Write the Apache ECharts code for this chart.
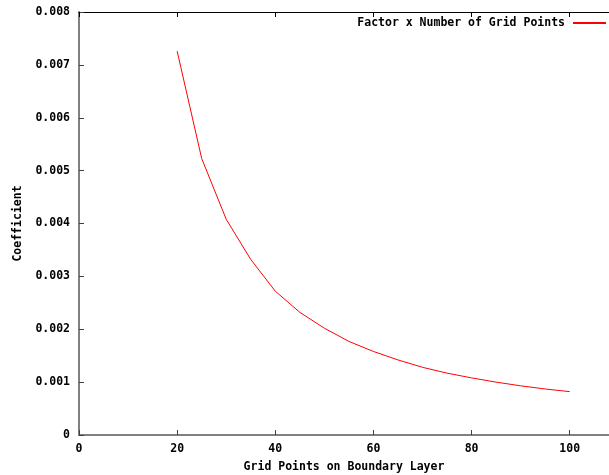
<!DOCTYPE html>
<html><head><meta charset="utf-8">
<script src="https://cdn.jsdelivr.net/npm/echarts@6/dist/echarts.min.js"></script>
<style>html,body{margin:0;padding:0;background:#fff}#c{width:609px;height:475px}</style>
</head><body><div id="c"></div>
<script>
const gridPoints = [20,25,30,35,40,45,50,55,60,65,70,75,80,85,90,95,100];
const coefficient = [0.00726,0.00523,0.00408,0.00332,0.00272,0.00232,0.00202,0.00177,0.00158,0.00142,0.00128,0.00117,0.00108,0.00100,0.00093,0.00087,0.00082];
const seriesName = 'Factor x Number of Grid Points';
const xTitle = 'Grid Points on Boundary Layer';
const yTitle = 'Coefficient';

const font = '"DejaVu Sans Mono", monospace';
const chart = echarts.init(document.getElementById('c'), null, {renderer:'canvas'});
chart.setOption({
  animation:false,
  grid:{left:79, right:0, top:12, bottom:40, outerBoundsMode:'none', containLabel:false},
  legend:{show:true, right:3, top:17, padding:0, itemWidth:33, itemHeight:2, itemGap:6,
    icon:'rect', align:'right',
    textStyle:{fontFamily:font, fontWeight:'bold', fontSize:11.5, color:'#000', padding:[0,3,0,0]},
    data:[{name:seriesName, icon:'rect'}]},
  xAxis:[{type:'value', min:0, max:108, interval:20, position:'bottom',
    name:xTitle, nameLocation:'middle', nameGap:26,
    nameTextStyle:{fontFamily:font, fontWeight:'bold', fontSize:11.5, color:'#000'},
    axisLine:{lineStyle:{color:'#808080', width:2}},
    axisTick:{inside:true, length:5, lineStyle:{color:'#404040'}},
    axisLabel:{fontFamily:font, fontWeight:'bold', fontSize:11.5, color:'#000', margin:8, showMaxLabel:false},
    splitLine:{show:false}},
   {type:'value', min:0, max:108, interval:20, position:'top',
    axisLine:{lineStyle:{color:'#000', width:1}},
    axisTick:{inside:true, length:5, lineStyle:{color:'#000'}},
    axisLabel:{show:false}, splitLine:{show:false}}],
  yAxis:{type:'value', min:0, max:0.008, interval:0.001,
    name:yTitle, nameLocation:'middle', nameGap:55, nameRotate:90,
    nameTextStyle:{fontFamily:font, fontWeight:'bold', fontSize:11.5, color:'#000'},
    axisLine:{show:true, lineStyle:{color:'#808080', width:2}},
    axisTick:{show:true, inside:true, length:5, lineStyle:{color:'#404040'}},
    axisLabel:{fontFamily:font, fontWeight:'bold', fontSize:11.5, color:'#000', margin:9,
      formatter:v=> v===0 ? '0' : v.toFixed(3)},
    splitLine:{show:false}},
  series:[{name:seriesName, type:'line', xAxisIndex:0,
    data:gridPoints.map((x,i)=>[x,coefficient[i]]),
    showSymbol:false, symbol:'none',
    lineStyle:{color:'#ff0000', width:1}, itemStyle:{color:'#ff0000'}}]
});
</script></body></html>
